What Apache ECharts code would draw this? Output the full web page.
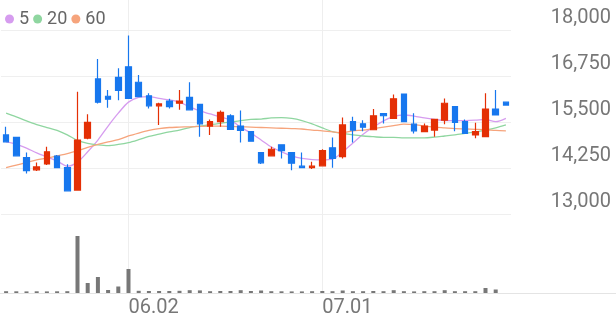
<!DOCTYPE html>
<html>
<head>
<meta charset="utf-8">
<script src="https://cdn.jsdelivr.net/npm/echarts@6/dist/echarts.min.js"></script>
<style>
  html, body { margin: 0; padding: 0; background: #ffffff; }
  #chart { width: 616px; height: 321px; }
</style>
</head>
<body>
<div id="chart"></div>
<script>
// ---- data ----
const dates = ['05.15','05.16','05.19','05.20','05.21','05.22','05.23','05.26','05.27','05.28','05.29','05.30',
  '06.02','06.04','06.05','06.09','06.10','06.11','06.12','06.13','06.16','06.17','06.18','06.19','06.20',
  '06.23','06.24','06.25','06.26','06.27','06.30','07.01','07.02','07.03','07.04','07.07','07.08','07.09',
  '07.10','07.11','07.14','07.15','07.16','07.17','07.18','07.21','07.22','07.23','07.24','07.25'];
const tickLabels = ['06.02', '07.01'];

const openP  = [15150,15080,14530,14200,14360,14570,14260,13650,15060,16670,16200,16710,17000,16580,16210,15940,16070,16010,16170,15980,15390,15510,15670,15390,15240,14670,14580,14880,14670,14300,14260,14310,14800,14560,15510,15450,15290,15730,15600,16260,15440,15240,15280,15550,15920,15510,15150,15100,15850,16040];
const closeP = [14960,14580,14180,14280,14690,14260,13630,15010,15490,16040,16120,16360,16140,16190,15940,15990,15920,16070,15830,15450,15510,15760,15300,15270,14980,14390,14760,14720,14380,14260,14300,14720,14510,15420,15280,15360,15670,15670,16130,15510,15260,15390,15570,16010,15490,15190,15240,15850,15690,15960];
const lowP   = [14950,14570,14100,14170,14330,14240,13620,13640,15030,16000,15890,16090,16130,16180,15870,15420,15870,15830,15820,15100,15150,15370,15290,14940,14970,14360,14570,14510,14190,14250,14220,14300,14260,14510,14940,15250,15280,15460,15590,15500,15190,15230,15100,15440,15250,15180,15060,15090,15680,15950];
const highP  = [15370,15090,14670,14400,14830,14600,14350,16320,15710,17210,16370,16960,17850,16780,16280,16020,16130,16370,16580,15990,15570,15810,15710,15810,15250,14680,14830,14890,14680,14670,14420,14760,15080,15620,15640,15550,15850,15740,16250,16270,15740,15460,15590,16140,15930,15570,15480,16280,16370,16050];

const ma5  = [14960,14900,14790,14660,14550,14440,14300,14410,14690,15010,15390,15740,16040,16170,16190,16140,16100,16040,15910,15800,15720,15640,15550,15360,15200,15010,14820,14690,14580,14510,14480,14470,14490,14690,14930,15170,15360,15530,15650,15690,15660,15610,15570,15540,15540,15540,15550,15570,15510,15600];
const ma20 = [15740,15640,15530,15430,15350,15270,15150,15000,14920,14880,14860,14890,14940,15020,15110,15170,15230,15280,15350,15390,15430,15460,15500,15540,15570,15580,15610,15620,15600,15540,15450,15340,15240,15190,15150,15120,15100,15080,15080,15070,15070,15070,15090,15120,15150,15190,15230,15280,15340,15420];
const ma60 = [14260,14330,14400,14470,14520,14580,14640,14720,14810,14890,14960,15020,15120,15200,15270,15320,15350,15360,15370,15380,15390,15390,15380,15370,15360,15350,15340,15330,15320,15310,15280,15260,15230,15210,15260,15280,15320,15360,15400,15440,15430,15390,15360,15340,15320,15310,15300,15290,15270,15260];

const volume = [18000,17000,16000,17000,16000,17000,18000,570000,100000,160000,30000,65000,240000,22000,20000,20000,20000,22000,28000,26000,18000,20000,20000,28000,20000,25000,18000,17000,16000,16000,18000,20000,18000,25000,18000,18000,20000,18000,28000,18000,16000,18000,18000,28000,18000,18000,18000,50000,35000,0];

const yMin = 13000, yMax = 18000, yStep = 1250;
const volMax = 700000;

// ---- build chart ----
const candles = dates.map((d, i) => [openP[i], closeP[i], lowP[i], highP[i]]);
const UP = '#e42f05', DOWN = '#1777ee';
const FONT = 'Roboto';
const showTick = (idx, val) => tickLabels.indexOf(val !== undefined ? val : dates[idx]) >= 0;

const chart = echarts.init(document.getElementById('chart'), null, { renderer: 'canvas' });
chart.setOption({
  animation: false,
  backgroundColor: '#ffffff',
  textStyle: { fontFamily: FONT },
  legend: {
    data: ['5', '20', '60'],
    icon: 'circle',
    itemWidth: 9, itemHeight: 9,
    itemGap: 4,
    left: 0, top: 5,
    selectedMode: false,
    textStyle: { fontSize: 18, color: '#666666', fontFamily: FONT }
  },
  grid: [
    { left: 1, right: 105, top: 30, height: 184 },
    { left: 1, right: 105, top: 223, height: 70 },
    { left: 6.1, right: 110.1, top: 0, bottom: 28 },
    { left: 0, right: 0, top: 292, height: 1 }
  ],
  xAxis: [
    { gridIndex: 0, type: 'category', data: dates, boundaryGap: true, show: false },
    { gridIndex: 1, type: 'category', data: dates, boundaryGap: true, show: false },
    { gridIndex: 2, type: 'category', data: dates, boundaryGap: false,
      axisLine: { show: false }, axisTick: { show: false },
      axisLabel: { interval: (i, v) => showTick(i, v), align: 'left', margin: 5,
        fontSize: 20, color: '#777777', fontFamily: FONT },
      splitLine: { show: true, interval: (i, v) => showTick(i, v), lineStyle: { color: '#eeeeee', width: 1 } } },
    { gridIndex: 3, type: 'value', axisLine: { show: true, lineStyle: { color: '#e4e4e4', width: 1 } },
      axisTick: { show: false }, axisLabel: { show: false }, splitLine: { show: false } }
  ],
  yAxis: [
    { gridIndex: 0, type: 'value', position: 'right', min: yMin, max: yMax, interval: yStep,
      axisLine: { show: false }, axisTick: { show: false },
      splitLine: { show: true, lineStyle: { color: '#efefef', width: 1 } },
      axisLabel: { showMinLabel: true, showMaxLabel: true, align: 'right', verticalAlign: 'bottom',
        margin: 100, padding: [0, 0, 2, 0], fontSize: 20, color: '#777777', fontFamily: FONT,
        formatter: v => String(v).replace(/\B(?=(\d{3})+(?!\d))/g, ',') } },
    { gridIndex: 1, type: 'value', min: 0, max: volMax, show: false },
    { gridIndex: 2, type: 'value', show: false },
    { gridIndex: 3, type: 'value', show: false }
  ],
  series: [
    { name: '5', type: 'line', xAxisIndex: 0, yAxisIndex: 0, data: ma5, smooth: 0.3, symbol: 'none',
      lineStyle: { color: '#d69cef', width: 1.3 }, itemStyle: { color: '#d69cef' }, z: 3 },
    { name: '20', type: 'line', xAxisIndex: 0, yAxisIndex: 0, data: ma20, smooth: 0.3, symbol: 'none',
      lineStyle: { color: '#8fd6a0', width: 1.3 }, itemStyle: { color: '#8fd6a0' }, z: 3 },
    { name: '60', type: 'line', xAxisIndex: 0, yAxisIndex: 0, data: ma60, smooth: 0.3, symbol: 'none',
      lineStyle: { color: '#f6a47c', width: 1.3 }, itemStyle: { color: '#f6a47c' }, z: 3 },
    { name: 'price', type: 'candlestick', xAxisIndex: 0, yAxisIndex: 0, data: candles, barWidth: 6,
      itemStyle: { color: UP, color0: DOWN, borderColor: UP, borderColor0: DOWN, borderWidth: 1.2 }, z: 4 },
    { name: 'volume', type: 'bar', xAxisIndex: 1, yAxisIndex: 1, data: volume, barWidth: 4,
      itemStyle: { color: '#777777' } }
  ]
});
</script>
</body>
</html>
